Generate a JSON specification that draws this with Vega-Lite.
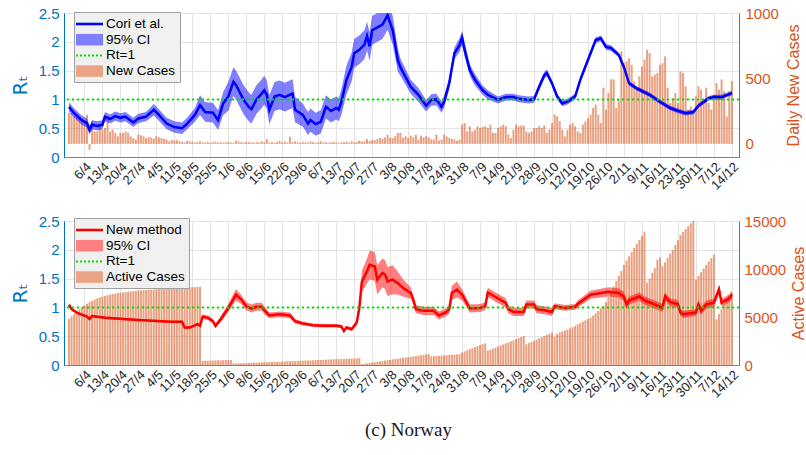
{
"$schema":"https://vega.github.io/schema/vega-lite/v6.json",
"background":"white",
"padding":{"left":9,"top":5,"right":0,"bottom":0},
"config":{"font":"Liberation Sans","view":{"stroke":"#a6a6a6","strokeWidth":1},"axis":{"ticks":false,"gridColor":"#e4e4e4","gridWidth":1},"axisX":{"labelOverlap":false}},
"title":{"text":"(c) Norway","orient":"bottom","anchor":"middle","font":"Liberation Serif","fontSize":19,"fontWeight":"normal","color":"#1a1a1a","offset":20},
"spacing":64,
"bounds":"flush",
"resolve":{"scale":{"fill":"independent","shape":"independent"},"legend":{"fill":"independent","shape":"independent"}},
"datasets":{
"bars":[
{"d":"2020-03-31","n":236,"a":4800},{"d":"2020-04-01","n":236,"a":5050},{"d":"2020-04-02","n":211,"a":5300},{"d":"2020-04-03","n":224,"a":5550},{"d":"2020-04-04","n":190,"a":5800},{"d":"2020-04-05","n":185,"a":6000},{"d":"2020-04-06","n":160,"a":6200},{"d":"2020-04-07","n":224,"a":6380},{"d":"2020-04-08","n":-45,"a":6550},{"d":"2020-04-09","n":173,"a":6700},{"d":"2020-04-10","n":96,"a":6820},{"d":"2020-04-11","n":96,"a":6940},{"d":"2020-04-12","n":135,"a":7040},{"d":"2020-04-13","n":109,"a":7120},{"d":"2020-04-14","n":122,"a":7200},{"d":"2020-04-15","n":211,"a":7270},{"d":"2020-04-16","n":96,"a":7330},{"d":"2020-04-17","n":109,"a":7390},{"d":"2020-04-18","n":84,"a":7440},{"d":"2020-04-19","n":58,"a":7490},{"d":"2020-04-20","n":84,"a":7530},{"d":"2020-04-21","n":85,"a":7570},{"d":"2020-04-22","n":96,"a":7610},{"d":"2020-04-23","n":84,"a":7640},{"d":"2020-04-24","n":58,"a":7670},{"d":"2020-04-25","n":45,"a":7700},{"d":"2020-04-26","n":33,"a":7730},{"d":"2020-04-27","n":71,"a":7750},{"d":"2020-04-28","n":65,"a":7770},{"d":"2020-04-29","n":58,"a":7790},{"d":"2020-04-30","n":45,"a":7810},
{"d":"2020-05-01","n":52,"a":7830},{"d":"2020-05-02","n":48,"a":7850},{"d":"2020-05-03","n":40,"a":7870},{"d":"2020-05-04","n":58,"a":7890},{"d":"2020-05-05","n":50,"a":7910},{"d":"2020-05-06","n":45,"a":7930},{"d":"2020-05-07","n":40,"a":7950},{"d":"2020-05-08","n":33,"a":7960},{"d":"2020-05-09","n":20,"a":7980},{"d":"2020-05-10","n":30,"a":8000},{"d":"2020-05-11","n":25,"a":8010},{"d":"2020-05-12","n":30,"a":8020},{"d":"2020-05-13","n":20,"a":8040},{"d":"2020-05-14","n":15,"a":8050},{"d":"2020-05-15","n":12,"a":8060},{"d":"2020-05-16","n":25,"a":8080},{"d":"2020-05-17","n":18,"a":8090},{"d":"2020-05-18","n":15,"a":8100},{"d":"2020-05-19","n":10,"a":8110},{"d":"2020-05-20","n":14,"a":8130},{"d":"2020-05-21","n":20,"a":8150},{"d":"2020-05-22","n":12,"a":430},{"d":"2020-05-23","n":10,"a":440},{"d":"2020-05-24","n":15,"a":450},{"d":"2020-05-25","n":8,"a":460},{"d":"2020-05-26","n":12,"a":470},{"d":"2020-05-27","n":18,"a":480},{"d":"2020-05-28","n":10,"a":490},{"d":"2020-05-29","n":14,"a":500},{"d":"2020-05-30","n":9,"a":505},{"d":"2020-05-31","n":12,"a":510},
{"d":"2020-06-01","n":15,"a":515},{"d":"2020-06-02","n":10,"a":520},{"d":"2020-06-03","n":8,"a":150},{"d":"2020-06-04","n":25,"a":160},{"d":"2020-06-05","n":18,"a":170},{"d":"2020-06-06","n":12,"a":180},{"d":"2020-06-07","n":10,"a":195},{"d":"2020-06-08","n":16,"a":205},{"d":"2020-06-09","n":14,"a":215},{"d":"2020-06-10","n":12,"a":225},{"d":"2020-06-11","n":9,"a":240},{"d":"2020-06-12","n":15,"a":250},{"d":"2020-06-13","n":11,"a":260},{"d":"2020-06-14","n":20,"a":270},{"d":"2020-06-15","n":12,"a":285},{"d":"2020-06-16","n":38,"a":295},{"d":"2020-06-17","n":10,"a":305},{"d":"2020-06-18","n":14,"a":315},{"d":"2020-06-19","n":9,"a":330},{"d":"2020-06-20","n":15,"a":340},{"d":"2020-06-21","n":22,"a":350},{"d":"2020-06-22","n":12,"a":360},{"d":"2020-06-23","n":18,"a":375},{"d":"2020-06-24","n":10,"a":385},{"d":"2020-06-25","n":55,"a":395},{"d":"2020-06-26","n":14,"a":405},{"d":"2020-06-27","n":20,"a":420},{"d":"2020-06-28","n":12,"a":430},{"d":"2020-06-29","n":9,"a":440},{"d":"2020-06-30","n":16,"a":450},
{"d":"2020-07-01","n":12,"a":465},{"d":"2020-07-02","n":10,"a":475},{"d":"2020-07-03","n":18,"a":485},{"d":"2020-07-04","n":14,"a":495},{"d":"2020-07-05","n":8,"a":510},{"d":"2020-07-06","n":12,"a":520},{"d":"2020-07-07","n":20,"a":530},{"d":"2020-07-08","n":10,"a":540},{"d":"2020-07-09","n":14,"a":555},{"d":"2020-07-10","n":9,"a":565},{"d":"2020-07-11","n":12,"a":575},{"d":"2020-07-12","n":16,"a":585},{"d":"2020-07-13","n":10,"a":600},{"d":"2020-07-14","n":8,"a":610},{"d":"2020-07-15","n":12,"a":620},{"d":"2020-07-16","n":14,"a":630},{"d":"2020-07-17","n":18,"a":645},{"d":"2020-07-18","n":10,"a":655},{"d":"2020-07-19","n":20,"a":665},{"d":"2020-07-20","n":12,"a":675},{"d":"2020-07-21","n":15,"a":690},{"d":"2020-07-22","n":25,"a":720},{"d":"2020-07-23","n":18,"a":100},{"d":"2020-07-24","n":20,"a":140},{"d":"2020-07-25","n":38,"a":180},{"d":"2020-07-26","n":22,"a":220},{"d":"2020-07-27","n":30,"a":260},{"d":"2020-07-28","n":28,"a":300},{"d":"2020-07-29","n":35,"a":340},{"d":"2020-07-30","n":45,"a":380},{"d":"2020-07-31","n":40,"a":420},
{"d":"2020-08-01","n":50,"a":460},{"d":"2020-08-02","n":71,"a":500},{"d":"2020-08-03","n":48,"a":540},{"d":"2020-08-04","n":45,"a":580},{"d":"2020-08-05","n":60,"a":620},{"d":"2020-08-06","n":84,"a":660},{"d":"2020-08-07","n":84,"a":700},{"d":"2020-08-08","n":45,"a":740},{"d":"2020-08-09","n":58,"a":780},{"d":"2020-08-10","n":45,"a":820},{"d":"2020-08-11","n":63,"a":860},{"d":"2020-08-12","n":50,"a":900},{"d":"2020-08-13","n":71,"a":940},{"d":"2020-08-14","n":33,"a":980},{"d":"2020-08-15","n":63,"a":1020},{"d":"2020-08-16","n":50,"a":1060},{"d":"2020-08-17","n":58,"a":1100},{"d":"2020-08-18","n":50,"a":1140},{"d":"2020-08-19","n":35,"a":900},{"d":"2020-08-20","n":33,"a":920},{"d":"2020-08-21","n":71,"a":940},{"d":"2020-08-22","n":25,"a":960},{"d":"2020-08-23","n":33,"a":980},{"d":"2020-08-24","n":71,"a":1000},{"d":"2020-08-25","n":58,"a":1020},{"d":"2020-08-26","n":45,"a":1040},{"d":"2020-08-27","n":38,"a":1060},{"d":"2020-08-28","n":33,"a":1080},{"d":"2020-08-29","n":25,"a":1100},{"d":"2020-08-30","n":33,"a":1140},{"d":"2020-08-31","n":147,"a":1310},
{"d":"2020-09-01","n":160,"a":1420},{"d":"2020-09-02","n":96,"a":1530},{"d":"2020-09-03","n":135,"a":1640},{"d":"2020-09-04","n":96,"a":1750},{"d":"2020-09-05","n":109,"a":1860},{"d":"2020-09-06","n":135,"a":1970},{"d":"2020-09-07","n":122,"a":2070},{"d":"2020-09-08","n":130,"a":2170},{"d":"2020-09-09","n":135,"a":2270},{"d":"2020-09-10","n":122,"a":1480},{"d":"2020-09-11","n":147,"a":1590},{"d":"2020-09-12","n":84,"a":1700},{"d":"2020-09-13","n":84,"a":1810},{"d":"2020-09-14","n":122,"a":1920},{"d":"2020-09-15","n":135,"a":2030},{"d":"2020-09-16","n":147,"a":2140},{"d":"2020-09-17","n":135,"a":2250},{"d":"2020-09-18","n":71,"a":2360},{"d":"2020-09-19","n":45,"a":2470},{"d":"2020-09-20","n":109,"a":2580},{"d":"2020-09-21","n":147,"a":2700},{"d":"2020-09-22","n":135,"a":2810},{"d":"2020-09-23","n":140,"a":2920},{"d":"2020-09-24","n":140,"a":3030},{"d":"2020-09-25","n":96,"a":2170},{"d":"2020-09-26","n":84,"a":2290},{"d":"2020-09-27","n":96,"a":2410},{"d":"2020-09-28","n":122,"a":2530},{"d":"2020-09-29","n":122,"a":2650},{"d":"2020-09-30","n":135,"a":2780},
{"d":"2020-10-01","n":122,"a":2900},{"d":"2020-10-02","n":140,"a":3020},{"d":"2020-10-03","n":84,"a":3140},{"d":"2020-10-04","n":109,"a":3260},{"d":"2020-10-05","n":160,"a":3380},{"d":"2020-10-06","n":224,"a":2950},{"d":"2020-10-07","n":211,"a":3250},{"d":"2020-10-08","n":173,"a":3400},{"d":"2020-10-09","n":109,"a":3500},{"d":"2020-10-10","n":58,"a":3600},{"d":"2020-10-11","n":109,"a":3690},{"d":"2020-10-12","n":147,"a":3800},{"d":"2020-10-13","n":160,"a":3950},{"d":"2020-10-14","n":135,"a":4100},{"d":"2020-10-15","n":96,"a":4240},{"d":"2020-10-16","n":84,"a":4380},{"d":"2020-10-17","n":147,"a":4520},{"d":"2020-10-18","n":173,"a":4660},{"d":"2020-10-19","n":198,"a":4800},{"d":"2020-10-20","n":224,"a":4930},{"d":"2020-10-21","n":275,"a":5150},{"d":"2020-10-22","n":300,"a":5400},{"d":"2020-10-23","n":224,"a":5650},{"d":"2020-10-24","n":160,"a":5900},{"d":"2020-10-25","n":429,"a":6150},{"d":"2020-10-26","n":262,"a":6550},{"d":"2020-10-27","n":391,"a":7100},{"d":"2020-10-28","n":493,"a":7680},{"d":"2020-10-29","n":493,"a":8200},{"d":"2020-10-30","n":275,"a":8750},{"d":"2020-10-31","n":338,"a":9300},
{"d":"2020-11-01","n":706,"a":9800},{"d":"2020-11-02","n":617,"a":10440},{"d":"2020-11-03","n":630,"a":10880},{"d":"2020-11-04","n":655,"a":11320},{"d":"2020-11-05","n":605,"a":11760},{"d":"2020-11-06","n":478,"a":12200},{"d":"2020-11-07","n":415,"a":12620},{"d":"2020-11-08","n":516,"a":13040},{"d":"2020-11-09","n":592,"a":13470},{"d":"2020-11-10","n":643,"a":13890},{"d":"2020-11-11","n":719,"a":8580},{"d":"2020-11-12","n":694,"a":9000},{"d":"2020-11-13","n":516,"a":9620},{"d":"2020-11-14","n":529,"a":10100},{"d":"2020-11-15","n":541,"a":10960},{"d":"2020-11-16","n":605,"a":11200},{"d":"2020-11-17","n":617,"a":10270},{"d":"2020-11-18","n":668,"a":10700},{"d":"2020-11-19","n":429,"a":11150},{"d":"2020-11-20","n":313,"a":11600},{"d":"2020-11-21","n":351,"a":12000},{"d":"2020-11-22","n":389,"a":12500},{"d":"2020-11-23","n":313,"a":13000},{"d":"2020-11-24","n":554,"a":13550},{"d":"2020-11-25","n":541,"a":13850},{"d":"2020-11-26","n":440,"a":14150},{"d":"2020-11-27","n":262,"a":14450},{"d":"2020-11-28","n":287,"a":14750},{"d":"2020-11-29","n":236,"a":15000},{"d":"2020-11-30","n":364,"a":8890},
{"d":"2020-12-01","n":440,"a":9280},{"d":"2020-12-02","n":415,"a":9670},{"d":"2020-12-03","n":338,"a":10060},{"d":"2020-12-04","n":429,"a":10440},{"d":"2020-12-05","n":313,"a":10790},{"d":"2020-12-06","n":262,"a":11140},{"d":"2020-12-07","n":376,"a":11480},{"d":"2020-12-08","n":465,"a":4760},{"d":"2020-12-09","n":415,"a":5300},{"d":"2020-12-10","n":493,"a":5800},{"d":"2020-12-11","n":402,"a":6300},{"d":"2020-12-12","n":211,"a":6820},{"d":"2020-12-13","n":402,"a":7200},{"d":"2020-12-14","n":480,"a":7550}
],
"cori":[
{"d":"2020-03-31","m":0.87,"lo":0.79,"hi":0.95},{"d":"2020-04-02","m":0.76,"lo":0.68,"hi":0.84},{"d":"2020-04-05","m":0.64,"lo":0.56,"hi":0.72},{"d":"2020-04-07","m":0.59,"lo":0.51,"hi":0.67},{"d":"2020-04-08","m":0.47,"lo":0.39,"hi":0.55},{"d":"2020-04-09","m":0.56,"lo":0.48,"hi":0.64},{"d":"2020-04-11","m":0.54,"lo":0.46,"hi":0.62},{"d":"2020-04-13","m":0.56,"lo":0.48,"hi":0.64},{"d":"2020-04-14","m":0.70,"lo":0.62,"hi":0.78},{"d":"2020-04-16","m":0.66,"lo":0.58,"hi":0.74},{"d":"2020-04-18","m":0.71,"lo":0.63,"hi":0.79},{"d":"2020-04-20","m":0.68,"lo":0.60,"hi":0.76},{"d":"2020-04-22","m":0.70,"lo":0.62,"hi":0.78},{"d":"2020-04-25","m":0.60,"lo":0.52,"hi":0.68},{"d":"2020-04-27","m":0.67,"lo":0.59,"hi":0.75},{"d":"2020-04-30","m":0.70,"lo":0.62,"hi":0.78},
{"d":"2020-05-03","m":0.82,"lo":0.72,"hi":0.92},{"d":"2020-05-05","m":0.73,"lo":0.63,"hi":0.83},{"d":"2020-05-08","m":0.58,"lo":0.48,"hi":0.68},{"d":"2020-05-11","m":0.52,"lo":0.42,"hi":0.62},{"d":"2020-05-14","m":0.50,"lo":0.40,"hi":0.60},{"d":"2020-05-16","m":0.58,"lo":0.48,"hi":0.68},{"d":"2020-05-19","m":0.73,"lo":0.61,"hi":0.85},{"d":"2020-05-21","m":0.90,"lo":0.73,"hi":1.07},{"d":"2020-05-23","m":0.78,"lo":0.61,"hi":0.95},{"d":"2020-05-26","m":0.77,"lo":0.60,"hi":0.94},{"d":"2020-05-28","m":0.64,"lo":0.47,"hi":0.81},{"d":"2020-05-30","m":0.93,"lo":0.73,"hi":1.13},
{"d":"2020-06-01","m":1.05,"lo":0.80,"hi":1.30},{"d":"2020-06-03","m":1.31,"lo":1.06,"hi":1.56},{"d":"2020-06-04","m":1.25,"lo":1.00,"hi":1.50},{"d":"2020-06-07","m":0.99,"lo":0.74,"hi":1.24},{"d":"2020-06-09","m":0.87,"lo":0.62,"hi":1.12},{"d":"2020-06-10","m":0.83,"lo":0.58,"hi":1.08},{"d":"2020-06-12","m":1.00,"lo":0.75,"hi":1.25},{"d":"2020-06-14","m":1.10,"lo":0.85,"hi":1.35},{"d":"2020-06-15","m":1.16,"lo":0.91,"hi":1.41},{"d":"2020-06-16","m":1.08,"lo":0.83,"hi":1.33},{"d":"2020-06-17","m":0.82,"lo":0.57,"hi":1.07},{"d":"2020-06-19","m":1.05,"lo":0.80,"hi":1.30},{"d":"2020-06-21","m":1.08,"lo":0.83,"hi":1.33},{"d":"2020-06-23","m":1.04,"lo":0.79,"hi":1.29},{"d":"2020-06-26","m":1.10,"lo":0.85,"hi":1.35},{"d":"2020-06-27","m":0.82,"lo":0.60,"hi":1.04},{"d":"2020-06-30","m":0.73,"lo":0.53,"hi":0.93},
{"d":"2020-07-02","m":0.58,"lo":0.38,"hi":0.78},{"d":"2020-07-03","m":0.64,"lo":0.44,"hi":0.84},{"d":"2020-07-05","m":0.57,"lo":0.37,"hi":0.77},{"d":"2020-07-07","m":0.61,"lo":0.41,"hi":0.81},{"d":"2020-07-09","m":0.87,"lo":0.67,"hi":1.07},{"d":"2020-07-11","m":0.80,"lo":0.60,"hi":1.00},{"d":"2020-07-13","m":0.85,"lo":0.65,"hi":1.05},{"d":"2020-07-14","m":0.82,"lo":0.62,"hi":1.02},{"d":"2020-07-15","m":0.95,"lo":0.73,"hi":1.17},{"d":"2020-07-17","m":1.34,"lo":1.09,"hi":1.59},{"d":"2020-07-19","m":1.56,"lo":1.31,"hi":1.81},{"d":"2020-07-20","m":1.80,"lo":1.55,"hi":2.05},{"d":"2020-07-22","m":1.86,"lo":1.61,"hi":2.11},{"d":"2020-07-24","m":1.95,"lo":1.70,"hi":2.20},{"d":"2020-07-25","m":2.10,"lo":1.85,"hi":2.35},{"d":"2020-07-26","m":1.92,"lo":1.67,"hi":2.17},{"d":"2020-07-27","m":2.20,"lo":1.95,"hi":2.45},{"d":"2020-07-29","m":2.25,"lo":2.00,"hi":2.50},{"d":"2020-07-31","m":2.30,"lo":2.05,"hi":2.55},
{"d":"2020-08-02","m":2.46,"lo":2.21,"hi":2.71},{"d":"2020-08-04","m":2.20,"lo":1.95,"hi":2.45},{"d":"2020-08-06","m":1.68,"lo":1.48,"hi":1.88},{"d":"2020-08-07","m":1.56,"lo":1.41,"hi":1.71},{"d":"2020-08-11","m":1.22,"lo":1.10,"hi":1.34},{"d":"2020-08-14","m":1.08,"lo":0.96,"hi":1.20},{"d":"2020-08-17","m":0.89,"lo":0.79,"hi":0.99},{"d":"2020-08-19","m":0.99,"lo":0.89,"hi":1.09},{"d":"2020-08-21","m":1.00,"lo":0.90,"hi":1.10},{"d":"2020-08-23","m":0.87,"lo":0.77,"hi":0.97},{"d":"2020-08-24","m":0.96,"lo":0.86,"hi":1.06},{"d":"2020-08-26","m":1.28,"lo":1.18,"hi":1.38},{"d":"2020-08-28","m":1.80,"lo":1.70,"hi":1.90},{"d":"2020-08-30","m":1.94,"lo":1.82,"hi":2.06},{"d":"2020-08-31","m":2.07,"lo":1.95,"hi":2.19},
{"d":"2020-09-01","m":1.86,"lo":1.74,"hi":1.98},{"d":"2020-09-03","m":1.51,"lo":1.41,"hi":1.61},{"d":"2020-09-05","m":1.34,"lo":1.24,"hi":1.44},{"d":"2020-09-08","m":1.16,"lo":1.08,"hi":1.24},{"d":"2020-09-10","m":1.08,"lo":1.00,"hi":1.16},{"d":"2020-09-14","m":0.99,"lo":0.93,"hi":1.05},{"d":"2020-09-17","m":1.04,"lo":0.98,"hi":1.10},{"d":"2020-09-20","m":1.04,"lo":0.98,"hi":1.10},{"d":"2020-09-22","m":1.01,"lo":0.95,"hi":1.07},{"d":"2020-09-26","m":0.99,"lo":0.93,"hi":1.05},{"d":"2020-09-28","m":1.00,"lo":0.94,"hi":1.06},{"d":"2020-09-30","m":1.22,"lo":1.16,"hi":1.28},
{"d":"2020-10-02","m":1.42,"lo":1.36,"hi":1.48},{"d":"2020-10-03","m":1.46,"lo":1.40,"hi":1.52},{"d":"2020-10-05","m":1.28,"lo":1.23,"hi":1.33},{"d":"2020-10-07","m":1.05,"lo":1.00,"hi":1.10},{"d":"2020-10-09","m":0.93,"lo":0.88,"hi":0.98},{"d":"2020-10-11","m":0.96,"lo":0.91,"hi":1.01},{"d":"2020-10-14","m":1.05,"lo":1.00,"hi":1.10},{"d":"2020-10-16","m":1.34,"lo":1.29,"hi":1.39},{"d":"2020-10-18","m":1.57,"lo":1.52,"hi":1.62},{"d":"2020-10-20","m":1.80,"lo":1.75,"hi":1.85},{"d":"2020-10-22","m":2.03,"lo":1.98,"hi":2.08},{"d":"2020-10-24","m":2.06,"lo":2.01,"hi":2.11},{"d":"2020-10-26","m":1.91,"lo":1.86,"hi":1.96},{"d":"2020-10-28","m":1.89,"lo":1.84,"hi":1.94},{"d":"2020-10-31","m":1.77,"lo":1.73,"hi":1.81},
{"d":"2020-11-02","m":1.56,"lo":1.52,"hi":1.60},{"d":"2020-11-04","m":1.28,"lo":1.24,"hi":1.32},{"d":"2020-11-07","m":1.19,"lo":1.15,"hi":1.23},{"d":"2020-11-12","m":1.08,"lo":1.04,"hi":1.12},{"d":"2020-11-16","m":0.96,"lo":0.92,"hi":1.00},{"d":"2020-11-20","m":0.85,"lo":0.81,"hi":0.89},{"d":"2020-11-23","m":0.80,"lo":0.76,"hi":0.84},{"d":"2020-11-26","m":0.76,"lo":0.72,"hi":0.80},{"d":"2020-11-29","m":0.78,"lo":0.74,"hi":0.82},{"d":"2020-12-01","m":0.89,"lo":0.85,"hi":0.93},{"d":"2020-12-05","m":1.02,"lo":0.98,"hi":1.06},{"d":"2020-12-07","m":1.04,"lo":1.00,"hi":1.08},{"d":"2020-12-10","m":1.04,"lo":1.00,"hi":1.08},{"d":"2020-12-14","m":1.11,"lo":1.07,"hi":1.15}
],
"nm":[
{"d":"2020-03-31","m":1.05,"lo":1.02,"hi":1.08},{"d":"2020-04-01","m":0.97,"lo":0.95,"hi":0.99},{"d":"2020-04-03","m":0.91,"lo":0.89,"hi":0.93},{"d":"2020-04-07","m":0.84,"lo":0.82,"hi":0.86},{"d":"2020-04-08","m":0.80,"lo":0.78,"hi":0.82},{"d":"2020-04-09","m":0.85,"lo":0.83,"hi":0.87},{"d":"2020-04-14","m":0.82,"lo":0.80,"hi":0.84},{"d":"2020-04-27","m":0.78,"lo":0.76,"hi":0.80},{"d":"2020-05-10","m":0.75,"lo":0.73,"hi":0.77},{"d":"2020-05-14","m":0.75,"lo":0.73,"hi":0.77},{"d":"2020-05-15","m":0.65,"lo":0.63,"hi":0.67},{"d":"2020-05-17","m":0.65,"lo":0.63,"hi":0.67},{"d":"2020-05-20","m":0.71,"lo":0.69,"hi":0.73},{"d":"2020-05-21","m":0.68,"lo":0.66,"hi":0.70},{"d":"2020-05-22","m":0.84,"lo":0.80,"hi":0.88},{"d":"2020-05-24","m":0.82,"lo":0.78,"hi":0.86},{"d":"2020-05-26","m":0.76,"lo":0.72,"hi":0.80},{"d":"2020-05-27","m":0.68,"lo":0.64,"hi":0.72},{"d":"2020-05-29","m":0.79,"lo":0.74,"hi":0.84},
{"d":"2020-06-01","m":0.99,"lo":0.92,"hi":1.06},{"d":"2020-06-04","m":1.22,"lo":1.12,"hi":1.32},{"d":"2020-06-06","m":1.14,"lo":1.06,"hi":1.22},{"d":"2020-06-08","m":1.02,"lo":0.95,"hi":1.09},{"d":"2020-06-10","m":0.98,"lo":0.91,"hi":1.05},{"d":"2020-06-12","m":1.01,"lo":0.94,"hi":1.08},{"d":"2020-06-14","m":1.01,"lo":0.94,"hi":1.08},{"d":"2020-06-15","m":0.95,"lo":0.88,"hi":1.02},{"d":"2020-06-17","m":0.86,"lo":0.81,"hi":0.91},{"d":"2020-06-21","m":0.88,"lo":0.83,"hi":0.93},{"d":"2020-06-25","m":0.86,"lo":0.81,"hi":0.91},{"d":"2020-06-27","m":0.76,"lo":0.72,"hi":0.80},{"d":"2020-06-30","m":0.72,"lo":0.69,"hi":0.75},
{"d":"2020-07-04","m":0.69,"lo":0.66,"hi":0.72},{"d":"2020-07-08","m":0.68,"lo":0.65,"hi":0.71},{"d":"2020-07-13","m":0.68,"lo":0.65,"hi":0.71},{"d":"2020-07-15","m":0.67,"lo":0.64,"hi":0.70},{"d":"2020-07-16","m":0.59,"lo":0.56,"hi":0.62},{"d":"2020-07-17","m":0.65,"lo":0.62,"hi":0.68},{"d":"2020-07-19","m":0.62,"lo":0.59,"hi":0.65},{"d":"2020-07-21","m":0.74,"lo":0.69,"hi":0.79},{"d":"2020-07-22","m":0.99,"lo":0.89,"hi":1.09},{"d":"2020-07-23","m":1.45,"lo":1.27,"hi":1.63},{"d":"2020-07-25","m":1.63,"lo":1.41,"hi":1.85},{"d":"2020-07-26","m":1.74,"lo":1.49,"hi":1.99},{"d":"2020-07-28","m":1.71,"lo":1.46,"hi":1.96},{"d":"2020-07-29","m":1.48,"lo":1.23,"hi":1.73},{"d":"2020-07-31","m":1.60,"lo":1.35,"hi":1.85},
{"d":"2020-08-01","m":1.57,"lo":1.32,"hi":1.82},{"d":"2020-08-02","m":1.45,"lo":1.20,"hi":1.70},{"d":"2020-08-04","m":1.48,"lo":1.23,"hi":1.73},{"d":"2020-08-06","m":1.42,"lo":1.22,"hi":1.62},{"d":"2020-08-08","m":1.34,"lo":1.19,"hi":1.49},{"d":"2020-08-11","m":1.25,"lo":1.15,"hi":1.35},{"d":"2020-08-12","m":1.14,"lo":1.06,"hi":1.22},{"d":"2020-08-13","m":0.97,"lo":0.90,"hi":1.04},{"d":"2020-08-16","m":0.94,"lo":0.87,"hi":1.01},{"d":"2020-08-20","m":0.94,"lo":0.87,"hi":1.01},{"d":"2020-08-22","m":0.86,"lo":0.79,"hi":0.93},{"d":"2020-08-25","m":0.92,"lo":0.85,"hi":0.99},{"d":"2020-08-26","m":0.97,"lo":0.90,"hi":1.04},{"d":"2020-08-27","m":1.25,"lo":1.13,"hi":1.37},{"d":"2020-08-29","m":1.31,"lo":1.17,"hi":1.45},{"d":"2020-08-31","m":1.22,"lo":1.12,"hi":1.32},
{"d":"2020-09-03","m":0.98,"lo":0.91,"hi":1.05},{"d":"2020-09-07","m":0.99,"lo":0.92,"hi":1.06},{"d":"2020-09-09","m":1.02,"lo":0.95,"hi":1.09},{"d":"2020-09-10","m":1.26,"lo":1.18,"hi":1.34},{"d":"2020-09-13","m":1.18,"lo":1.10,"hi":1.26},{"d":"2020-09-17","m":1.08,"lo":1.00,"hi":1.16},{"d":"2020-09-18","m":0.97,"lo":0.90,"hi":1.04},{"d":"2020-09-20","m":0.92,"lo":0.85,"hi":0.99},{"d":"2020-09-24","m":0.92,"lo":0.85,"hi":0.99},{"d":"2020-09-25","m":1.05,"lo":0.98,"hi":1.12},{"d":"2020-09-28","m":1.05,"lo":0.98,"hi":1.12},{"d":"2020-09-29","m":0.97,"lo":0.90,"hi":1.04},
{"d":"2020-10-02","m":0.95,"lo":0.88,"hi":1.02},{"d":"2020-10-05","m":0.92,"lo":0.85,"hi":0.99},{"d":"2020-10-06","m":1.02,"lo":0.97,"hi":1.07},{"d":"2020-10-10","m":0.99,"lo":0.94,"hi":1.04},{"d":"2020-10-14","m":1.01,"lo":0.96,"hi":1.06},{"d":"2020-10-15","m":1.06,"lo":1.00,"hi":1.12},{"d":"2020-10-20","m":1.22,"lo":1.15,"hi":1.29},{"d":"2020-10-27","m":1.27,"lo":1.19,"hi":1.35},{"d":"2020-10-31","m":1.25,"lo":1.17,"hi":1.33},
{"d":"2020-11-02","m":1.19,"lo":1.11,"hi":1.27},{"d":"2020-11-03","m":1.05,"lo":0.98,"hi":1.12},{"d":"2020-11-04","m":1.12,"lo":1.05,"hi":1.19},{"d":"2020-11-08","m":1.19,"lo":1.12,"hi":1.26},{"d":"2020-11-10","m":1.12,"lo":1.05,"hi":1.19},{"d":"2020-11-14","m":1.05,"lo":0.98,"hi":1.12},{"d":"2020-11-17","m":0.99,"lo":0.92,"hi":1.06},{"d":"2020-11-18","m":1.19,"lo":1.12,"hi":1.26},{"d":"2020-11-20","m":1.09,"lo":1.02,"hi":1.16},{"d":"2020-11-23","m":1.06,"lo":0.99,"hi":1.13},{"d":"2020-11-24","m":0.91,"lo":0.85,"hi":0.97},{"d":"2020-11-25","m":0.88,"lo":0.82,"hi":0.94},{"d":"2020-11-30","m":0.91,"lo":0.85,"hi":0.97},
{"d":"2020-12-01","m":1.05,"lo":0.98,"hi":1.12},{"d":"2020-12-02","m":0.94,"lo":0.87,"hi":1.01},{"d":"2020-12-04","m":1.05,"lo":0.98,"hi":1.12},{"d":"2020-12-07","m":1.08,"lo":1.01,"hi":1.15},{"d":"2020-12-09","m":1.31,"lo":1.23,"hi":1.39},{"d":"2020-12-10","m":1.08,"lo":1.01,"hi":1.15},{"d":"2020-12-13","m":1.16,"lo":1.09,"hi":1.23},{"d":"2020-12-14","m":1.22,"lo":1.15,"hi":1.29}
],
"legTop":[{"k":"Cori et al."},{"k":"95% CI"},{"k":"Rt=1"},{"k":"New Cases"}],
"legBot":[{"k":"New method"},{"k":"95% CI"},{"k":"Rt=1"},{"k":"Active Cases"}]
},
"vconcat":[
{
"width":675,"height":144,
"resolve":{"scale":{"y":"independent"}},
"layer":[
{"data":{"name":"bars"},
"mark":{"type":"bar","size":2,"color":"#D95319","opacity":0.55,"clip":true},
"encoding":{
"x":{"field":"d","type":"temporal","scale":{"type":"utc","domain":[{"year":2020,"month":3,"date":31,"utc":true},{"year":2020,"month":12,"date":14,"hours":20,"utc":true}]},
"axis":{"orient":"bottom","tickCount":80,"values":[{"year":2020,"month":4,"date":6,"utc":true},{"year":2020,"month":4,"date":13,"utc":true},{"year":2020,"month":4,"date":20,"utc":true},{"year":2020,"month":4,"date":27,"utc":true},{"year":2020,"month":5,"date":4,"utc":true},{"year":2020,"month":5,"date":11,"utc":true},{"year":2020,"month":5,"date":18,"utc":true},{"year":2020,"month":5,"date":25,"utc":true},{"year":2020,"month":6,"date":1,"utc":true},{"year":2020,"month":6,"date":8,"utc":true},{"year":2020,"month":6,"date":15,"utc":true},{"year":2020,"month":6,"date":22,"utc":true},{"year":2020,"month":6,"date":29,"utc":true},{"year":2020,"month":7,"date":6,"utc":true},{"year":2020,"month":7,"date":13,"utc":true},{"year":2020,"month":7,"date":20,"utc":true},{"year":2020,"month":7,"date":27,"utc":true},{"year":2020,"month":8,"date":3,"utc":true},{"year":2020,"month":8,"date":10,"utc":true},{"year":2020,"month":8,"date":17,"utc":true},{"year":2020,"month":8,"date":24,"utc":true},{"year":2020,"month":8,"date":31,"utc":true},{"year":2020,"month":9,"date":7,"utc":true},{"year":2020,"month":9,"date":14,"utc":true},{"year":2020,"month":9,"date":21,"utc":true},{"year":2020,"month":9,"date":28,"utc":true},{"year":2020,"month":10,"date":5,"utc":true},{"year":2020,"month":10,"date":12,"utc":true},{"year":2020,"month":10,"date":19,"utc":true},{"year":2020,"month":10,"date":26,"utc":true},{"year":2020,"month":11,"date":2,"utc":true},{"year":2020,"month":11,"date":9,"utc":true},{"year":2020,"month":11,"date":16,"utc":true},{"year":2020,"month":11,"date":23,"utc":true},{"year":2020,"month":11,"date":30,"utc":true},{"year":2020,"month":12,"date":7,"utc":true},{"year":2020,"month":12,"date":14,"utc":true}],
"labelExpr":"utcFormat(datum.value, '%-d/%-m')","labelAngle":-45,"labelFontSize":13,"labelColor":"#262626","labelPadding":3,"labelOverlap":false,"labelFlush":false,"labelBound":false,"title":null,"grid":true,"domainColor":"#7f7f7f"}},
"y":{"field":"n","type":"quantitative","scale":{"domain":[-100,1000],"nice":false,"zero":false},
"axis":{"orient":"right","tickCount":20,"values":[0,500,1000],"format":"d","title":"Daily New Cases","grid":false,"labelColor":"#D95319","titleColor":"#D95319","domainColor":"#D95319","labelFontSize":15,"titleFontSize":16,"titleFontWeight":"normal","titleAngle":270,"titleBaseline":"top","labelPadding":6,"titlePadding":7}}
}},
{"layer":[
{"data":{"name":"cori"},"mark":{"type":"area","color":"#0000ff","opacity":0.5,"clip":true},
"encoding":{"x":{"field":"d","type":"temporal"},
"y":{"field":"lo","type":"quantitative","scale":{"domain":[0,2.5],"nice":false},
"axis":{"orient":"left","tickCount":20,"values":[0,0.5,1,1.5,2,2.5],"format":"~g","title":"Rₜ","grid":true,"labelColor":"#0072BD","titleColor":"#0072BD","domainColor":"#0072BD","labelFontSize":15,"titleFontSize":20,"titleFont":"DejaVu Sans","titleFontWeight":"normal","labelPadding":5,"titlePadding":8}},
"y2":{"field":"hi"}}},
{"data":{"name":"cori"},"mark":{"type":"line","color":"#0000ff","strokeWidth":2.5,"clip":true},
"encoding":{"x":{"field":"d","type":"temporal"},"y":{"field":"m","type":"quantitative"}}},
{"data":{"values":[{}]},"mark":{"type":"rule","color":"#00e000","strokeDash":[2,3],"strokeWidth":2},
"encoding":{"y":{"datum":1,"type":"quantitative"}}},
{"data":{"name":"legTop"},"mark":{"type":"point","filled":true,"opacity":1,"clip":true},
"encoding":{
"y":{"datum":-5,"type":"quantitative"},
"fill":{"field":"k","type":"nominal","scale":{"domain":["Cori et al.","95% CI","Rt=1","New Cases"],"range":["#0000ff","#7f7fff","#00e000","#e9a385"]},
"legend":{"orient":"none","legendX":10,"legendY":-1,"title":null,"fillColor":"#f0f0f0","strokeColor":"#a0a0a0","padding":4,"rowPadding":0.7,"symbolSize":256,"symbolStrokeWidth":0,"symbolOpacity":1,"labelOffset":12,"labelFontSize":13.5,"labelColor":"#000000","labelFont":"Liberation Sans"}},
"shape":{"field":"k","type":"nominal","scale":{"domain":["Cori et al.","95% CI","Rt=1","New Cases"],"range":["M-1.25,-0.16H2.125V0.16H-1.25Z","M-1.25,-0.72H2.125V0.72H-1.25Z","M-1.25,-0.125h0.25v0.25h-0.25ZM-0.75,-0.125h0.25v0.25h-0.25ZM-0.25,-0.125h0.25v0.25h-0.25ZM0.25,-0.125h0.25v0.25h-0.25ZM0.75,-0.125h0.25v0.25h-0.25ZM1.25,-0.125h0.25v0.25h-0.25ZM1.75,-0.125h0.25v0.25h-0.25Z","M-1.25,-0.72H2.125V0.72H-1.25Z"]}}
}}
]}
]
},
{
"width":675,"height":144,
"resolve":{"scale":{"y":"independent"}},
"layer":[
{"data":{"name":"bars"},
"mark":{"type":"bar","size":2,"color":"#D95319","opacity":0.55,"clip":true},
"encoding":{
"x":{"field":"d","type":"temporal","scale":{"type":"utc","domain":[{"year":2020,"month":3,"date":31,"utc":true},{"year":2020,"month":12,"date":14,"hours":20,"utc":true}]},
"axis":{"orient":"bottom","tickCount":80,"values":[{"year":2020,"month":4,"date":6,"utc":true},{"year":2020,"month":4,"date":13,"utc":true},{"year":2020,"month":4,"date":20,"utc":true},{"year":2020,"month":4,"date":27,"utc":true},{"year":2020,"month":5,"date":4,"utc":true},{"year":2020,"month":5,"date":11,"utc":true},{"year":2020,"month":5,"date":18,"utc":true},{"year":2020,"month":5,"date":25,"utc":true},{"year":2020,"month":6,"date":1,"utc":true},{"year":2020,"month":6,"date":8,"utc":true},{"year":2020,"month":6,"date":15,"utc":true},{"year":2020,"month":6,"date":22,"utc":true},{"year":2020,"month":6,"date":29,"utc":true},{"year":2020,"month":7,"date":6,"utc":true},{"year":2020,"month":7,"date":13,"utc":true},{"year":2020,"month":7,"date":20,"utc":true},{"year":2020,"month":7,"date":27,"utc":true},{"year":2020,"month":8,"date":3,"utc":true},{"year":2020,"month":8,"date":10,"utc":true},{"year":2020,"month":8,"date":17,"utc":true},{"year":2020,"month":8,"date":24,"utc":true},{"year":2020,"month":8,"date":31,"utc":true},{"year":2020,"month":9,"date":7,"utc":true},{"year":2020,"month":9,"date":14,"utc":true},{"year":2020,"month":9,"date":21,"utc":true},{"year":2020,"month":9,"date":28,"utc":true},{"year":2020,"month":10,"date":5,"utc":true},{"year":2020,"month":10,"date":12,"utc":true},{"year":2020,"month":10,"date":19,"utc":true},{"year":2020,"month":10,"date":26,"utc":true},{"year":2020,"month":11,"date":2,"utc":true},{"year":2020,"month":11,"date":9,"utc":true},{"year":2020,"month":11,"date":16,"utc":true},{"year":2020,"month":11,"date":23,"utc":true},{"year":2020,"month":11,"date":30,"utc":true},{"year":2020,"month":12,"date":7,"utc":true},{"year":2020,"month":12,"date":14,"utc":true}],
"labelExpr":"utcFormat(datum.value, '%-d/%-m')","labelAngle":-45,"labelFontSize":13,"labelColor":"#262626","labelPadding":3,"labelOverlap":false,"labelFlush":false,"labelBound":false,"title":null,"grid":true,"domainColor":"#7f7f7f"}},
"y":{"field":"a","type":"quantitative","scale":{"domain":[0,15000],"nice":false},
"axis":{"orient":"right","tickCount":20,"values":[0,5000,10000,15000],"format":"d","title":"Active Cases","grid":false,"labelColor":"#D95319","titleColor":"#D95319","domainColor":"#D95319","labelFontSize":15,"titleFontSize":16,"titleFontWeight":"normal","titleAngle":270,"titleBaseline":"top","labelPadding":5,"titlePadding":5}}
}},
{"layer":[
{"data":{"name":"nm"},"mark":{"type":"area","color":"#ff0000","opacity":0.5,"clip":true},
"encoding":{"x":{"field":"d","type":"temporal"},
"y":{"field":"lo","type":"quantitative","scale":{"domain":[0,2.5],"nice":false},
"axis":{"orient":"left","tickCount":20,"values":[0,0.5,1,1.5,2,2.5],"format":"~g","title":"Rₜ","grid":true,"labelColor":"#0072BD","titleColor":"#0072BD","domainColor":"#0072BD","labelFontSize":15,"titleFontSize":20,"titleFont":"DejaVu Sans","titleFontWeight":"normal","labelPadding":5,"titlePadding":8}},
"y2":{"field":"hi"}}},
{"data":{"name":"nm"},"mark":{"type":"line","color":"#ff0000","strokeWidth":2.5,"clip":true},
"encoding":{"x":{"field":"d","type":"temporal"},"y":{"field":"m","type":"quantitative"}}},
{"data":{"values":[{}]},"mark":{"type":"rule","color":"#00e000","strokeDash":[2,3],"strokeWidth":2},
"encoding":{"y":{"datum":1,"type":"quantitative"}}},
{"data":{"name":"legBot"},"mark":{"type":"point","filled":true,"opacity":1,"clip":true},
"encoding":{
"y":{"datum":-5,"type":"quantitative"},
"fill":{"field":"k","type":"nominal","scale":{"domain":["New method","95% CI","Rt=1","Active Cases"],"range":["#ff0000","#ff8080","#00e000","#e9a385"]},
"legend":{"orient":"none","legendX":10,"legendY":-3,"title":null,"fillColor":"#f0f0f0","strokeColor":"#a0a0a0","padding":4,"rowPadding":0.7,"symbolSize":256,"symbolStrokeWidth":0,"symbolOpacity":1,"labelOffset":12,"labelFontSize":13.5,"labelColor":"#000000","labelFont":"Liberation Sans"}},
"shape":{"field":"k","type":"nominal","scale":{"domain":["New method","95% CI","Rt=1","Active Cases"],"range":["M-1.25,-0.16H2.125V0.16H-1.25Z","M-1.25,-0.72H2.125V0.72H-1.25Z","M-1.25,-0.125h0.25v0.25h-0.25ZM-0.75,-0.125h0.25v0.25h-0.25ZM-0.25,-0.125h0.25v0.25h-0.25ZM0.25,-0.125h0.25v0.25h-0.25ZM0.75,-0.125h0.25v0.25h-0.25ZM1.25,-0.125h0.25v0.25h-0.25ZM1.75,-0.125h0.25v0.25h-0.25Z","M-1.25,-0.72H2.125V0.72H-1.25Z"]}}
}}
]}
]
}
]
}
